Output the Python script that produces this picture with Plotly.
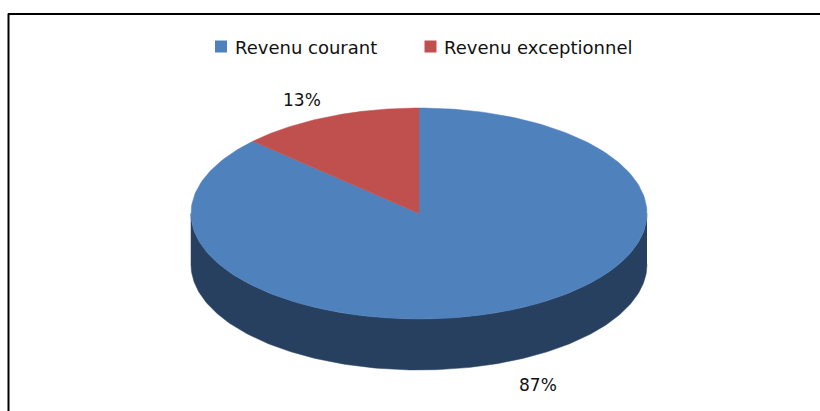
import numpy as np
import plotly.graph_objects as go

categories = ["Revenu courant", "Revenu exceptionnel"]
values = [87, 13]
labels = ["87%", "13%"]
colors = ["#4F81BD", "#C0504D"]
side_color = "#27405F"
label_pos = [(538, 385), (302, 100)]
legend_swatch_x = [221, 430.5]
legend_text_x = [233, 442]
LEGEND_Y = 47.5

CX, CY, RX, RY, DEPTH = 419, 213.5, 228, 105.5, 51
W, H = 820, 411


def ellipse(t):
    return CX + RX * np.sin(t), CY - RY * np.cos(t)


fig = go.Figure()

# pie wall
t = np.linspace(np.pi / 2, 3 * np.pi / 2, 200)
x, y = ellipse(t)
fig.add_trace(go.Scatter(
    x=np.r_[x, x[::-1]], y=np.r_[y + DEPTH, y[::-1]], mode="lines", fill="toself",
    fillcolor=side_color, line=dict(color=side_color, width=0.5),
    showlegend=False, hoverinfo="skip"))

# top faces
total = sum(values)
start = 0.0
for name, v, c in zip(categories, values, colors):
    end = start + 2 * np.pi * v / total
    t = np.linspace(start, end, 240)
    x, y = ellipse(t)
    fig.add_trace(go.Scatter(
        x=np.r_[CX, x, CX], y=np.r_[CY, y, CY], mode="lines", fill="toself",
        fillcolor=c, line=dict(color=c, width=0.5), showlegend=False, name=name))
    start = end

# legend swatches and names
for name, c, sx, tx in zip(categories, colors, legend_swatch_x, legend_text_x):
    fig.add_trace(go.Scatter(
        x=[sx], y=[46.5], mode="markers", name=name, showlegend=False,
        marker=dict(symbol="square", size=12, color=c, line=dict(width=0))))
    fig.add_annotation(x=tx, y=LEGEND_Y, text=name, showarrow=False, xanchor="left",
                       font=dict(family="DejaVu Sans", size=18, color="#111111"))

for text, (lx, ly) in zip(labels, label_pos):
    fig.add_annotation(x=lx, y=ly, text=text, showarrow=False,
                       font=dict(family="DejaVu Sans", size=17, color="#111111"))

# frame
fig.add_shape(type="line", x0=8.5, x1=8.5, y0=13.5, y1=411, line=dict(color="black", width=2))
fig.add_shape(type="line", x0=8, x1=820, y0=14, y1=14, line=dict(color="black", width=2))

fig.update_layout(
    width=W, height=H, margin=dict(l=0, r=0, t=0, b=0),
    paper_bgcolor="white", plot_bgcolor="white",
    xaxis=dict(range=[0, W], visible=False, fixedrange=True),
    yaxis=dict(range=[H, 0], visible=False, fixedrange=True),
    showlegend=False,
)

fig.write_html("out.html", config={"displayModeBar": False},
               post_script="document.body.style.margin='0';document.body.style.overflow='hidden';")
